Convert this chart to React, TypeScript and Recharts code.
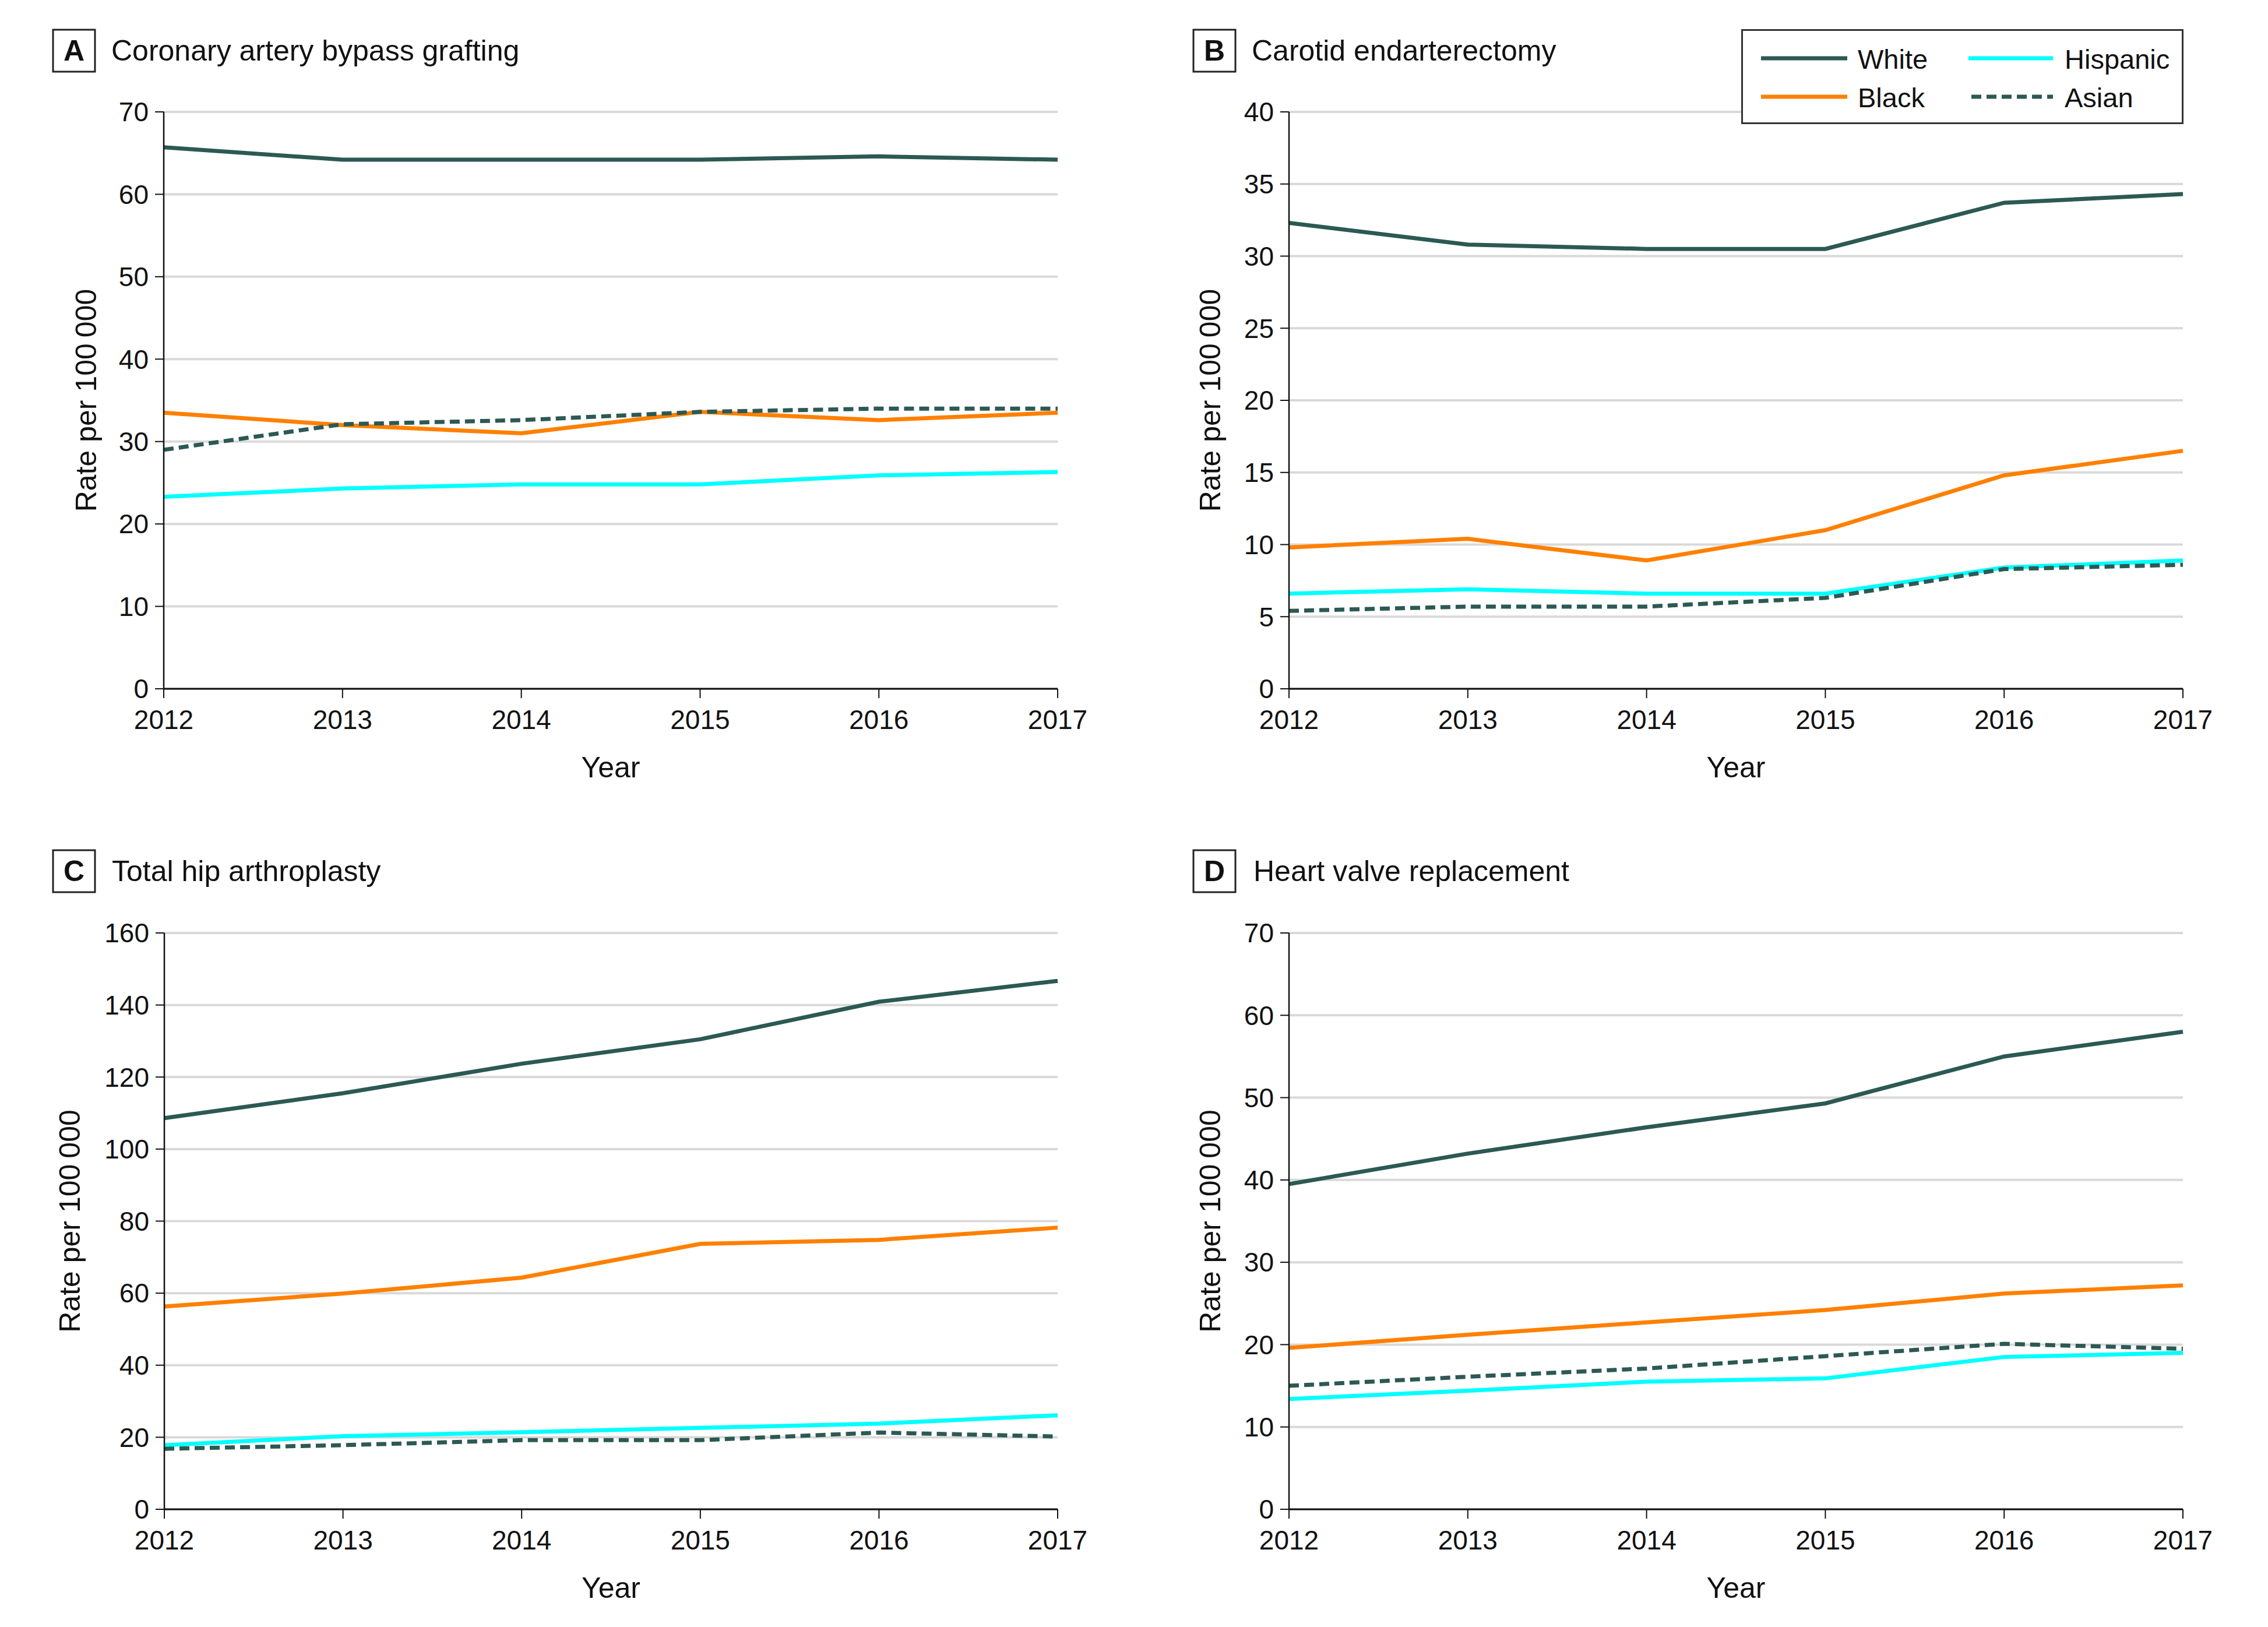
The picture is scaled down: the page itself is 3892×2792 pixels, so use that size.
import React from "react";
import { LineChart, Line, XAxis, YAxis, CartesianGrid, Legend } from "recharts";

const FONT = '"Liberation Sans", Arial, sans-serif';

const years = [2012, 2013, 2014, 2015, 2016, 2017];

// A - Coronary artery bypass grafting
const cabgWhite = [65.7, 64.2, 64.2, 64.2, 64.6, 64.2];
const cabgBlack = [33.5, 32.0, 31.0, 33.6, 32.6, 33.5];
const cabgHispanic = [23.3, 24.3, 24.8, 24.8, 25.9, 26.3];
const cabgAsian = [29.0, 32.1, 32.6, 33.6, 34.0, 34.0];
const cabgTicks = [0, 10, 20, 30, 40, 50, 60, 70];

// B - Carotid endarterectomy
const ceaWhite = [32.3, 30.8, 30.5, 30.5, 33.7, 34.3];
const ceaBlack = [9.8, 10.4, 8.9, 11.0, 14.8, 16.5];
const ceaHispanic = [6.6, 6.9, 6.6, 6.6, 8.4, 8.9];
const ceaAsian = [5.4, 5.7, 5.7, 6.3, 8.3, 8.6];
const ceaTicks = [0, 5, 10, 15, 20, 25, 30, 35, 40];

// C - Total hip arthroplasty
const thaWhite = [108.6, 115.5, 123.7, 130.5, 140.9, 146.7];
const thaBlack = [56.3, 59.9, 64.3, 73.7, 74.8, 78.2];
const thaHispanic = [17.8, 20.3, 21.4, 22.6, 23.8, 26.1];
const thaAsian = [16.8, 17.8, 19.2, 19.2, 21.3, 20.2];
const thaTicks = [0, 20, 40, 60, 80, 100, 120, 140, 160];

// D - Heart valve replacement
const hvrWhite = [39.5, 43.2, 46.4, 49.3, 55.0, 58.0];
const hvrBlack = [19.6, 21.2, 22.7, 24.2, 26.2, 27.2];
const hvrHispanic = [13.4, 14.4, 15.5, 15.9, 18.5, 19.0];
const hvrAsian = [15.0, 16.1, 17.1, 18.6, 20.1, 19.5];
const hvrTicks = [0, 10, 20, 30, 40, 50, 60, 70];

const series = [
  { key: "White", color: "#2c5954", dash: undefined },
  { key: "Black", color: "#ff8000", dash: undefined },
  { key: "Hispanic", color: "#00ffff", dash: undefined },
  { key: "Asian", color: "#2c5954", dash: "17 9" },
];

const buildRows = (w: number[], b: number[], h: number[], a: number[]) =>
  years.map((year, i) => ({ year, White: w[i], Black: b[i], Hispanic: h[i], Asian: a[i] }));

const CHART_W = 1946;
const CHART_H = 1396;
const Y_AXIS_W = 120;
const X_AXIS_H = 60;

const panels = [
  {
    letter: "A", title: "Coronary artery bypass grafting",
    rows: buildRows(cabgWhite, cabgBlack, cabgHispanic, cabgAsian), ticks: cabgTicks,
    chartLeft: 0, chartTop: 0, plotLeft: 281, plotRight: 1815, plotTop: 192, plotBottom: 1182,
    yLabelX: 165, boxX: 91, boxY: 51, titleX: 191, legend: false,
  },
  {
    letter: "B", title: "Carotid endarterectomy",
    rows: buildRows(ceaWhite, ceaBlack, ceaHispanic, ceaAsian), ticks: ceaTicks,
    chartLeft: 1946, chartTop: 0, plotLeft: 2212, plotRight: 3746, plotTop: 192, plotBottom: 1182,
    yLabelX: 2094, boxX: 2048, boxY: 51, titleX: 2148, legend: true,
  },
  {
    letter: "C", title: "Total hip arthroplasty",
    rows: buildRows(thaWhite, thaBlack, thaHispanic, thaAsian), ticks: thaTicks,
    chartLeft: 0, chartTop: 1396, plotLeft: 282, plotRight: 1815, plotTop: 1601, plotBottom: 2590,
    yLabelX: 137, boxX: 91, boxY: 1459, titleX: 192, legend: false,
  },
  {
    letter: "D", title: "Heart valve replacement",
    rows: buildRows(hvrWhite, hvrBlack, hvrHispanic, hvrAsian), ticks: hvrTicks,
    chartLeft: 1946, chartTop: 1396, plotLeft: 2212, plotRight: 3746, plotTop: 1601, plotBottom: 2590,
    yLabelX: 2094, boxX: 2048, boxY: 1459, titleX: 2151, legend: false,
  },
];

// legend box sits at page (2988,50), drawn inside panel B's legend slot
const LegendBox = () => {
  const pos = [
    { x1: 34, x2: 182, y: 50, tx: 200, ty: 68 },
    { x1: 34, x2: 182, y: 116, tx: 200, ty: 134 },
    { x1: 390, x2: 535, y: 50, tx: 555, ty: 68 },
    { x1: 395, x2: 535, y: 116, tx: 555, ty: 134 },
  ];
  return (
    <svg width={759} height={163} style={{ display: "block" }}>
      <rect x={1.5} y={1.5} width={756} height={160} fill="#fff" stroke="#333" strokeWidth={3} />
      {series.map((s, i) => (
        <g key={s.key}>
          <line x1={pos[i].x1} x2={pos[i].x2} y1={pos[i].y} y2={pos[i].y} stroke={s.color} strokeWidth={7} strokeDasharray={s.dash} />
          <text x={pos[i].tx} y={pos[i].ty} fontSize={47} fontFamily={FONT} fill="#111">
            {s.key}
          </text>
        </g>
      ))}
    </svg>
  );
};

function Panel({ p }: { p: (typeof panels)[number] }) {
  const max = p.ticks[p.ticks.length - 1];
  const relPlotTop = p.plotTop - p.chartTop;
  const relPlotBottom = p.plotBottom - p.chartTop;
  const relPlotLeft = p.plotLeft - p.chartLeft;
  const relPlotRight = p.plotRight - p.chartLeft;
  const yLabelX = p.yLabelX - p.chartLeft;
  const midY = (relPlotTop + relPlotBottom) / 2;
  const midX = (relPlotLeft + relPlotRight) / 2;

  return (
    <div style={{ position: "absolute", left: p.chartLeft, top: p.chartTop }}>
      <LineChart
        width={CHART_W}
        height={CHART_H}
        data={p.rows}
        margin={{
          top: relPlotTop,
          right: CHART_W - relPlotRight,
          bottom: CHART_H - relPlotBottom - X_AXIS_H,
          left: relPlotLeft - Y_AXIS_W,
        }}
      >
        <CartesianGrid vertical={false} stroke="#d9d9d9" strokeWidth={4} />
        <XAxis
          dataKey="year"
          type="number"
          domain={[2012, 2017]}
          ticks={years}
          interval={0}
          height={X_AXIS_H}
          tickSize={16}
          tickMargin={20}
          axisLine={{ stroke: "#111", strokeWidth: 3 }}
          tickLine={{ stroke: "#111", strokeWidth: 2 }}
          tick={{ fill: "#111", fontSize: 46, fontFamily: FONT }}
          label={() => (
            <text x={midX} y={relPlotBottom + 152} textAnchor="middle" fontSize={50} fontFamily={FONT} fill="#111">
              Year
            </text>
          )}
        />
        <YAxis
          type="number"
          domain={[0, max]}
          ticks={p.ticks}
          interval={0}
          width={Y_AXIS_W}
          tickSize={15}
          tickMargin={11}
          axisLine={{ stroke: "#111", strokeWidth: 2.5 }}
          tickLine={{ stroke: "#111", strokeWidth: 2 }}
          tick={{ fill: "#111", fontSize: 46, fontFamily: FONT }}
          label={() => (
            <text
              x={yLabelX}
              y={midY}
              transform={`rotate(-90 ${yLabelX} ${midY})`}
              textAnchor="middle"
              fontSize={50}
              fontFamily={FONT}
              fill="#111"
            >
              {"Rate per 100\u2009000"}
            </text>
          )}
        />
        {series.map((s) => (
          <Line
            key={s.key}
            dataKey={s.key}
            type="linear"
            stroke={s.color}
            strokeWidth={7}
            strokeDasharray={s.dash}
            dot={false}
            activeDot={false}
            isAnimationActive={false}
          />
        ))}
        {p.legend && (
          <Legend
            layout="horizontal"
            verticalAlign="middle"
            align="center"
            wrapperStyle={{ left: 2988 - p.chartLeft, top: 50, width: 759, height: 163 }}
            content={() => <LegendBox />}
          />
        )}
      </LineChart>
    </div>
  );
}

export default function App() {
  return (
    <div style={{ position: "absolute", left: 0, top: 0, width: 3892, height: 2792, background: "#fff", fontFamily: FONT }}>
      {panels.map((p) => (
        <Panel key={p.letter} p={p} />
      ))}
      <svg width={3892} height={2792} style={{ position: "absolute", left: 0, top: 0, pointerEvents: "none" }}>
        {panels.map((p) => (
          <g key={p.letter}>
            <rect x={p.boxX} y={p.boxY} width={72} height={72} fill="none" stroke="#222" strokeWidth={3} />
            <text x={p.boxX + 36} y={p.boxY + 53} textAnchor="middle" fontSize={50} fontWeight="bold" fontFamily={FONT} fill="#111">
              {p.letter}
            </text>
            <text x={p.titleX} y={p.boxY + 53} fontSize={50} fontFamily={FONT} fill="#111">
              {p.title}
            </text>
          </g>
        ))}
      </svg>
    </div>
  );
}
